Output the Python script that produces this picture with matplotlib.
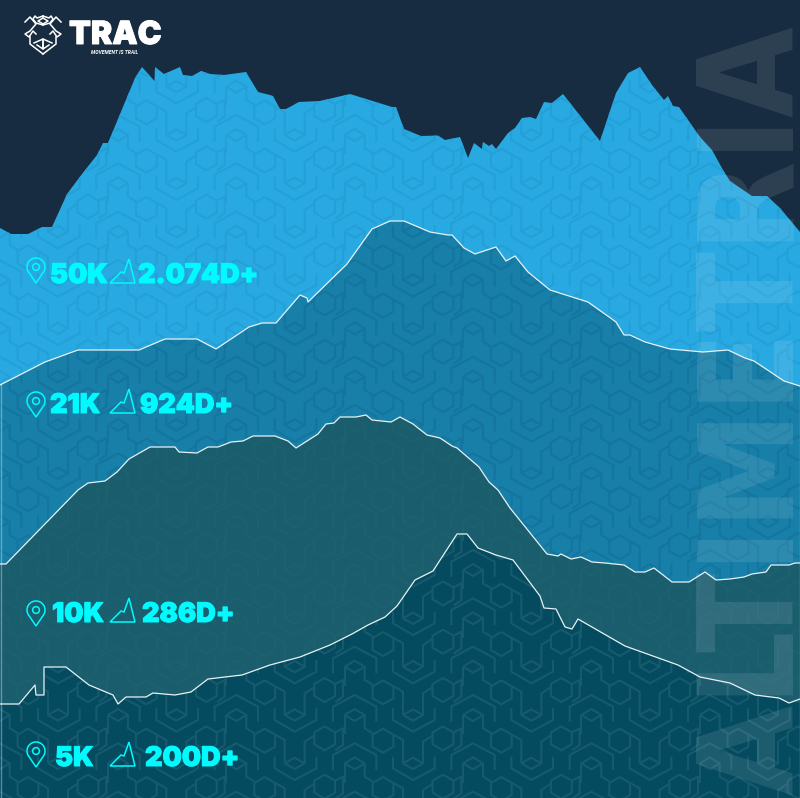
import numpy as np
import matplotlib
matplotlib.use("Agg")
import matplotlib.pyplot as plt
import matplotlib.patheffects as pe
from matplotlib.collections import LineCollection
from matplotlib.patches import Circle, Polygon

# Profiles: distance position / screen height
x_50k = [0,11,28,42,52,67,82,97,103,108,135,142,154.5,155,164,180,183,192,201,210,224,246,258,270,273,280,286,299,320,350,392,396,404,421,438,445,460,468,474,482,483,489,492,496,508,515,522,530,536,544,552,563,600,616,628,640,652,664,668,673,679,700,712,723,730,752,767,780,800]
y_50k = [228,234,234,227,227,194,174,155,143,143,78,67,81,67,74,67,75,76,71,74,75,72,92,95,96,109,109,102,101,94,107,107,129,136,135.5,140,137,158,143,149,142,146,144,149,133,128,118,117,119,102,103,94,141,93,73,67,85,100,96,106,107,137,150,170,181,196,196,208,232]

x_21k = [0,45,78,139,165,197,216,249,262,276,300,307,308,347,372,390,404,430,448,452,464,475,496,506,515,528,550,588,616,624,630,645,670,703,728,745,754,784,800]
y_21k = [385,362,350,350,339,339,349,327,323,323,295,298,302,264,229,221,221,232,235,235,248,254,247,261,256,272,290,302,322,335,335,342,349,352,350,358,361,381,386]

x_10k = [0,6,78,88,105,117,129,150,175,179,197,208,218,231,243,253,275,288,296,318,326,334,340,356,366,372,391,400,413,427,440,452,457,479,489,498,510,547,558,561,571,581,592,605,624,635,645,654,672,689,705,716,730,744,752,766,771,789,795,800]
y_10k = [564,564,490,483,481,472,459,447,447,452,453,447,447,442,441,436,436,441,448,434,424,423,417,417,415,420,422,417,424,435,438,446,448,467,482,490,508,554,556,554,559,557,562,563,565,572,572,568,582,582,572,580,579,577,574,572,565,565,563,563]

x_5k = [0,19,35,36,44,44,66,89,113,118,126,146,153,175,191,208,242,270,300,330,352,368,385,397,415,433,457,467,478,496,513,540,544,556,565,572,578,625,678,700,730,755,779,789,800]
y_5k = [704,704,685,695,695,667,667,685,695,704,697,697,693,695,692,679,675,665,657,645,634,625,617,606,580,571,534,534,548,555,560,596,608,609,627,629,619,646,665,677,683,695,698,703,699]

race_labels = ["50K", "21K", "10K", "5K"]
gain_labels = ["2.074D+", "924D+", "286D+", "200D+"]

W, H = 800, 798
BG = "#172c40"
fills = ["#29a9e1", "#177fa8", "#1a5d6d", "#054b60"]
pattern_cols = ["#24a0d7", "#14759f", "#1d6070", "#175a6e"]
CYAN = "#00fbff"
FONT = ["Inter", "DejaVu Sans"]
heavy = [pe.withStroke(linewidth=0.7, foreground=CYAN)]

fig = plt.figure(figsize=(W / 100, H / 100), dpi=100, facecolor=BG)
ax = fig.add_axes([0, 0, 1, 1])
ax.set_xlim(0, W)
ax.set_ylim(H, 0)
ax.axis("off")


def tile_segments():
    """Repeating hexagon ornament, built in a 355x145 cell then scaled."""
    def hexagon(cx, cy, r=36):
        a = np.radians(np.arange(90, 451, 60))
        return np.c_[cx + r * np.cos(a), cy - r * np.sin(a)]
    shapes = [
        hexagon(430, 187),
        [(462, 169), (490, 185), (490, 255)],
        [(460, 235), (460, 270), (520, 305), (585, 270), (585, 235)],
        [(490, 255), (520, 238), (550, 255), (520, 272), (490, 255)],
        [(550, 255), (550, 190), (578, 172)],
        hexagon(610, 180),
        [(642, 162), (665, 150), (665, 200), (642, 216)],
        [(635, 130), (635, 85), (700, 50), (765, 85), (765, 130)],
        [(670, 110), (700, 92), (730, 110), (700, 128), (670, 110)],
        [(670, 110), (670, 168)],
        [(730, 110), (730, 150), (755, 165)],
    ]
    segs = []
    for i in range(-2, 9):
        for j in range(-2, 19):
            for s in shapes:
                p = np.asarray(s, float)
                segs.append(np.c_[(p[:, 0] - 370 + 355 * i) / 3 + 8,
                                  (p[:, 1] + 145 * j) / 3 + 50])
    return segs


segments = tile_segments()
series = [(x_50k, y_50k), (x_21k, y_21k), (x_10k, y_10k), (x_5k, y_5k)]
for k, (xs, ys) in enumerate(series):
    band = ax.fill_between(xs, ys, H, color=fills[k], lw=0, zorder=2 + k)
    lc = LineCollection(segments, colors=pattern_cols[k], linewidths=1.5, zorder=2 + k)
    ax.add_collection(lc)
    lc.set_clip_path(band.get_paths()[0], ax.transData)
    if k:
        ax.plot(xs, ys, color="#e6f2f5", lw=0.9, zorder=2 + k, solid_joinstyle="round")
        ax.plot([0.5, 0.5], [ys[0], H], color="#ffffff", alpha=0.35, lw=1, zorder=2 + k)
        ax.plot([799.5, 799.5], [ys[-1], H], color="#ffffff", alpha=0.35, lw=1, zorder=2 + k)

# Watermark
ax.text(793, 795, "ALTIMETRIA", rotation=90, ha="left", va="baseline", color="white", alpha=0.1,
        fontsize=94, family="DejaVu Sans", fontstretch="condensed", fontweight="bold", zorder=8,
        rotation_mode="anchor")


def pin(cx, top, h=25, r=9):
    cy = top + r
    t = np.radians(np.linspace(-30, 210, 50))
    arc = np.c_[cx + r * np.cos(t), cy - r * np.sin(t)]
    pts = np.vstack([arc, [cx, top + h]])
    ax.add_patch(Polygon(pts, closed=True, fill=False, ec=CYAN, lw=1.1, zorder=9))
    ax.add_patch(Circle((cx, cy), 3.4, fill=False, ec=CYAN, lw=1.1, zorder=9))


def peak(x0, base):
    pts = [(x0, base), (x0 + 11, base - 11), (x0 + 14, base - 10), (x0 + 19, base - 24), (x0 + 25, base)]
    ax.add_patch(Polygon(pts, closed=True, fill=False, ec=CYAN, lw=1.1, zorder=9))


race_x = [50, 50, 52, 55]
gain_x = [138, 140, 142, 145]
base_y = [283, 413, 622, 766]
pin_top = [258, 392, 601, 742]
for i in range(4):
    ax.text(race_x[i], base_y[i], race_labels[i], color=CYAN, fontsize=19.5, family=FONT, fontweight="black",
            va="baseline", ha="left", zorder=9, path_effects=heavy)
    ax.text(gain_x[i], base_y[i], gain_labels[i], color=CYAN, fontsize=19.5, family=FONT, fontweight="black",
            va="baseline", ha="left", zorder=9, path_effects=heavy)
    pin(36, pin_top[i])
    peak(110, base_y[i])

# Logo
ax.text(69, 44, "TRAC", color="white", fontsize=23, family=FONT, fontweight="black", va="baseline", ha="left",
        zorder=9, path_effects=[pe.withStroke(linewidth=0.7, foreground="white")])
ax.text(91, 53.5, "MOVEMENT IS TRAIL", color="white", fontsize=3.6, family=["Roboto", "DejaVu Sans"], fontweight="bold",
        style="italic", va="baseline", ha="left", zorder=9)
half = [
    [(43, 16), (37, 18), (35, 16), (33, 19), (36, 23), (43, 25)],
    [(43, 18), (38, 21), (43, 24)],
    [(25, 22), (30, 17), (36, 24), (30, 31), (25, 34), (29, 37), (33, 31), (36, 34)],
    [(30, 37), (30, 44), (43, 54)],
    [(34, 43), (43, 39), (43, 49), (37, 45)],
]
for s in half:
    s = np.asarray(s, float)
    ax.plot(s[:, 0], s[:, 1], color="white", lw=1.1, zorder=9)
    ax.plot(86 - s[:, 0], s[:, 1], color="white", lw=1.1, zorder=9)

fig.savefig("out.png", dpi=100, facecolor=BG)
